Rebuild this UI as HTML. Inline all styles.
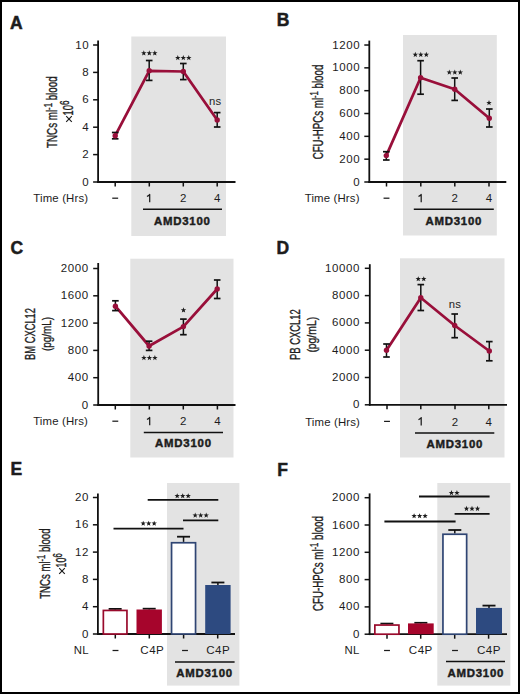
<!DOCTYPE html><html><head><meta charset="utf-8"><style>html,body{margin:0;padding:0;background:#fff;}svg{display:block;}text{font-family:"Liberation Sans",sans-serif;}</style></head><body>
<svg width="520" height="694" viewBox="0 0 520 694">
<rect x="0.00" y="0.00" width="520.00" height="694.00" fill="#000"/>
<rect x="2.00" y="2.00" width="516.00" height="690.00" fill="#fff"/>
<rect x="131.30" y="36.50" width="94.70" height="199.50" fill="#e3e3e3"/>
<text x="10.00" y="29.00" text-anchor="start" font-size="17.5" font-weight="bold" letter-spacing="0" fill="#1c1c1c" stroke="#1c1c1c" stroke-width="0.5">A</text>
<line x1="98.10" y1="40.60" x2="98.10" y2="182.90" stroke="#111" stroke-width="1.8"/>
<line x1="93.10" y1="182.00" x2="98.10" y2="182.00" stroke="#111" stroke-width="1.5"/>
<text x="89.20" y="185.52" text-anchor="end" font-size="11.5" font-weight="normal" letter-spacing="0.6" fill="#1c1c1c" >0</text>
<line x1="93.10" y1="154.60" x2="98.10" y2="154.60" stroke="#111" stroke-width="1.5"/>
<text x="89.20" y="158.12" text-anchor="end" font-size="11.5" font-weight="normal" letter-spacing="0.6" fill="#1c1c1c" >2</text>
<line x1="93.10" y1="127.20" x2="98.10" y2="127.20" stroke="#111" stroke-width="1.5"/>
<text x="89.20" y="130.72" text-anchor="end" font-size="11.5" font-weight="normal" letter-spacing="0.6" fill="#1c1c1c" >4</text>
<line x1="93.10" y1="99.80" x2="98.10" y2="99.80" stroke="#111" stroke-width="1.5"/>
<text x="89.20" y="103.32" text-anchor="end" font-size="11.5" font-weight="normal" letter-spacing="0.6" fill="#1c1c1c" >6</text>
<line x1="93.10" y1="72.40" x2="98.10" y2="72.40" stroke="#111" stroke-width="1.5"/>
<text x="89.20" y="75.92" text-anchor="end" font-size="11.5" font-weight="normal" letter-spacing="0.6" fill="#1c1c1c" >8</text>
<line x1="93.10" y1="45.00" x2="98.10" y2="45.00" stroke="#111" stroke-width="1.5"/>
<text x="89.20" y="48.52" text-anchor="end" font-size="11.5" font-weight="normal" letter-spacing="0.6" fill="#1c1c1c" >10</text>
<line x1="97.20" y1="182.00" x2="235.50" y2="182.00" stroke="#111" stroke-width="1.8"/>
<line x1="115.20" y1="182.00" x2="115.20" y2="186.50" stroke="#111" stroke-width="1.5"/>
<line x1="149.30" y1="182.00" x2="149.30" y2="186.50" stroke="#111" stroke-width="1.5"/>
<line x1="183.30" y1="182.00" x2="183.30" y2="186.50" stroke="#111" stroke-width="1.5"/>
<line x1="217.20" y1="182.00" x2="217.20" y2="186.50" stroke="#111" stroke-width="1.5"/>
<text x="88.20" y="202.30" text-anchor="end" font-size="11.4" font-weight="normal" letter-spacing="0.15" fill="#1c1c1c" >Time (Hrs)</text>
<line x1="112.25" y1="198.20" x2="118.15" y2="198.20" stroke="#1c1c1c" stroke-width="1.25"/>
<path d="M147.00,196.50 L149.20,195.10 L149.70,194.40 L149.70,202.30" fill="none" stroke="#1c1c1c" stroke-width="1.25" stroke-linejoin="round"/>
<text x="183.30" y="202.30" text-anchor="middle" font-size="11.5" font-weight="normal" letter-spacing="0" fill="#1c1c1c" >2</text>
<text x="217.20" y="202.30" text-anchor="middle" font-size="11.5" font-weight="normal" letter-spacing="0" fill="#1c1c1c" >4</text>
<line x1="143.00" y1="209.30" x2="222.00" y2="209.30" stroke="#111" stroke-width="1.5"/>
<text x="182.30" y="224.70" text-anchor="middle" font-size="11.4" font-weight="bold" letter-spacing="0.78" fill="#1c1c1c" stroke="#1c1c1c" stroke-width="0.45">AMD3100</text>
<path d="M115.20,135.70 L149.20,70.80 L183.30,71.50 L217.20,120.00" fill="none" stroke="#990f3a" stroke-width="2.75" stroke-linejoin="round"/>
<line x1="115.20" y1="132.50" x2="115.20" y2="138.80" stroke="#111" stroke-width="1.5"/>
<line x1="111.90" y1="132.50" x2="118.50" y2="132.50" stroke="#111" stroke-width="1.7"/>
<line x1="111.90" y1="138.80" x2="118.50" y2="138.80" stroke="#111" stroke-width="1.7"/>
<line x1="149.20" y1="60.50" x2="149.20" y2="80.40" stroke="#111" stroke-width="1.5"/>
<line x1="145.90" y1="60.50" x2="152.50" y2="60.50" stroke="#111" stroke-width="1.7"/>
<line x1="145.90" y1="80.40" x2="152.50" y2="80.40" stroke="#111" stroke-width="1.7"/>
<line x1="183.30" y1="63.50" x2="183.30" y2="79.60" stroke="#111" stroke-width="1.5"/>
<line x1="180.00" y1="63.50" x2="186.60" y2="63.50" stroke="#111" stroke-width="1.7"/>
<line x1="180.00" y1="79.60" x2="186.60" y2="79.60" stroke="#111" stroke-width="1.7"/>
<line x1="217.20" y1="112.60" x2="217.20" y2="127.00" stroke="#111" stroke-width="1.5"/>
<line x1="213.90" y1="112.60" x2="220.50" y2="112.60" stroke="#111" stroke-width="1.7"/>
<line x1="213.90" y1="127.00" x2="220.50" y2="127.00" stroke="#111" stroke-width="1.7"/>
<circle cx="115.20" cy="135.70" r="2.7" fill="#990f3a"/>
<circle cx="149.20" cy="70.80" r="2.7" fill="#990f3a"/>
<circle cx="183.30" cy="71.50" r="2.7" fill="#990f3a"/>
<circle cx="217.20" cy="120.00" r="2.7" fill="#990f3a"/>
<polygon points="143.80,50.35 144.51,52.23 146.51,52.32 144.94,53.57 145.48,55.51 143.80,54.40 142.12,55.51 142.66,53.57 141.09,52.32 143.09,52.23" fill="#1c1c1c"/>
<polygon points="149.30,50.35 150.01,52.23 152.01,52.32 150.44,53.57 150.98,55.51 149.30,54.40 147.62,55.51 148.16,53.57 146.59,52.32 148.59,52.23" fill="#1c1c1c"/>
<polygon points="154.80,50.35 155.51,52.23 157.51,52.32 155.94,53.57 156.48,55.51 154.80,54.40 153.12,55.51 153.66,53.57 152.09,52.32 154.09,52.23" fill="#1c1c1c"/>
<polygon points="177.80,55.05 178.51,56.93 180.51,57.02 178.94,58.27 179.48,60.21 177.80,59.10 176.12,60.21 176.66,58.27 175.09,57.02 177.09,56.93" fill="#1c1c1c"/>
<polygon points="183.30,55.05 184.01,56.93 186.01,57.02 184.44,58.27 184.98,60.21 183.30,59.10 181.62,60.21 182.16,58.27 180.59,57.02 182.59,56.93" fill="#1c1c1c"/>
<polygon points="188.80,55.05 189.51,56.93 191.51,57.02 189.94,58.27 190.48,60.21 188.80,59.10 187.12,60.21 187.66,58.27 186.09,57.02 188.09,56.93" fill="#1c1c1c"/>
<text x="215.20" y="105.00" text-anchor="middle" font-size="11.3" font-weight="normal" letter-spacing="0.2" fill="#1c1c1c" >ns</text>
<g transform="translate(56.90,147.90) rotate(-90)"><text x="0" y="0" text-anchor="start" font-size="13.9" fill="#1c1c1c" stroke="#1c1c1c" stroke-width="0.35" textLength="71.50" lengthAdjust="spacingAndGlyphs">TNCs ml<tspan font-size="11" dy="-5.1">-1</tspan><tspan dy="5.1"> </tspan>blood</text></g>
<path d="M66.20,116.20L71.80,121.80M66.20,121.80L71.80,116.20" stroke="#1c1c1c" stroke-width="1.15" fill="none"/>
<g transform="translate(72.80,115.40) rotate(-90)"><text x="0" y="0" text-anchor="start" font-size="13.9" fill="#1c1c1c" stroke="#1c1c1c" stroke-width="0.35" textLength="14.90" lengthAdjust="spacingAndGlyphs">10<tspan font-size="12" dy="-4.2">6</tspan></text></g>
<rect x="403.00" y="35.00" width="93.80" height="200.50" fill="#e3e3e3"/>
<text x="276.80" y="25.80" text-anchor="start" font-size="17.5" font-weight="bold" letter-spacing="0" fill="#1c1c1c" stroke="#1c1c1c" stroke-width="0.5">B</text>
<line x1="369.30" y1="40.60" x2="369.30" y2="182.90" stroke="#111" stroke-width="1.8"/>
<line x1="364.30" y1="182.00" x2="369.30" y2="182.00" stroke="#111" stroke-width="1.5"/>
<text x="360.30" y="185.52" text-anchor="end" font-size="11.5" font-weight="normal" letter-spacing="0.6" fill="#1c1c1c" >0</text>
<line x1="364.30" y1="159.17" x2="369.30" y2="159.17" stroke="#111" stroke-width="1.5"/>
<text x="360.30" y="162.69" text-anchor="end" font-size="11.5" font-weight="normal" letter-spacing="0.6" fill="#1c1c1c" >200</text>
<line x1="364.30" y1="136.34" x2="369.30" y2="136.34" stroke="#111" stroke-width="1.5"/>
<text x="360.30" y="139.86" text-anchor="end" font-size="11.5" font-weight="normal" letter-spacing="0.6" fill="#1c1c1c" >400</text>
<line x1="364.30" y1="113.51" x2="369.30" y2="113.51" stroke="#111" stroke-width="1.5"/>
<text x="360.30" y="117.03" text-anchor="end" font-size="11.5" font-weight="normal" letter-spacing="0.6" fill="#1c1c1c" >600</text>
<line x1="364.30" y1="90.68" x2="369.30" y2="90.68" stroke="#111" stroke-width="1.5"/>
<text x="360.30" y="94.20" text-anchor="end" font-size="11.5" font-weight="normal" letter-spacing="0.6" fill="#1c1c1c" >800</text>
<line x1="364.30" y1="67.85" x2="369.30" y2="67.85" stroke="#111" stroke-width="1.5"/>
<text x="360.30" y="71.37" text-anchor="end" font-size="11.5" font-weight="normal" letter-spacing="0.6" fill="#1c1c1c" >1000</text>
<line x1="364.30" y1="45.02" x2="369.30" y2="45.02" stroke="#111" stroke-width="1.5"/>
<text x="360.30" y="48.54" text-anchor="end" font-size="11.5" font-weight="normal" letter-spacing="0.6" fill="#1c1c1c" >1200</text>
<line x1="368.40" y1="182.00" x2="506.30" y2="182.00" stroke="#111" stroke-width="1.8"/>
<line x1="386.50" y1="182.00" x2="386.50" y2="186.50" stroke="#111" stroke-width="1.5"/>
<line x1="420.80" y1="182.00" x2="420.80" y2="186.50" stroke="#111" stroke-width="1.5"/>
<line x1="454.80" y1="182.00" x2="454.80" y2="186.50" stroke="#111" stroke-width="1.5"/>
<line x1="489.00" y1="182.00" x2="489.00" y2="186.50" stroke="#111" stroke-width="1.5"/>
<text x="359.60" y="202.30" text-anchor="end" font-size="11.4" font-weight="normal" letter-spacing="0.15" fill="#1c1c1c" >Time (Hrs)</text>
<line x1="383.55" y1="198.20" x2="389.45" y2="198.20" stroke="#1c1c1c" stroke-width="1.25"/>
<path d="M418.50,196.50 L420.70,195.10 L421.20,194.40 L421.20,202.30" fill="none" stroke="#1c1c1c" stroke-width="1.25" stroke-linejoin="round"/>
<text x="454.80" y="202.30" text-anchor="middle" font-size="11.5" font-weight="normal" letter-spacing="0" fill="#1c1c1c" >2</text>
<text x="489.00" y="202.30" text-anchor="middle" font-size="11.5" font-weight="normal" letter-spacing="0" fill="#1c1c1c" >4</text>
<line x1="413.80" y1="209.30" x2="493.80" y2="209.30" stroke="#111" stroke-width="1.5"/>
<text x="453.80" y="224.70" text-anchor="middle" font-size="11.4" font-weight="bold" letter-spacing="0.78" fill="#1c1c1c" stroke="#1c1c1c" stroke-width="0.45">AMD3100</text>
<path d="M386.30,155.60 L420.60,77.80 L454.70,89.30 L489.30,118.20" fill="none" stroke="#990f3a" stroke-width="2.75" stroke-linejoin="round"/>
<line x1="386.30" y1="151.70" x2="386.30" y2="160.00" stroke="#111" stroke-width="1.5"/>
<line x1="383.00" y1="151.70" x2="389.60" y2="151.70" stroke="#111" stroke-width="1.7"/>
<line x1="383.00" y1="160.00" x2="389.60" y2="160.00" stroke="#111" stroke-width="1.7"/>
<line x1="420.60" y1="60.70" x2="420.60" y2="94.20" stroke="#111" stroke-width="1.5"/>
<line x1="417.30" y1="60.70" x2="423.90" y2="60.70" stroke="#111" stroke-width="1.7"/>
<line x1="417.30" y1="94.20" x2="423.90" y2="94.20" stroke="#111" stroke-width="1.7"/>
<line x1="454.70" y1="78.00" x2="454.70" y2="100.40" stroke="#111" stroke-width="1.5"/>
<line x1="451.40" y1="78.00" x2="458.00" y2="78.00" stroke="#111" stroke-width="1.7"/>
<line x1="451.40" y1="100.40" x2="458.00" y2="100.40" stroke="#111" stroke-width="1.7"/>
<line x1="489.30" y1="109.00" x2="489.30" y2="127.00" stroke="#111" stroke-width="1.5"/>
<line x1="486.00" y1="109.00" x2="492.60" y2="109.00" stroke="#111" stroke-width="1.7"/>
<line x1="486.00" y1="127.00" x2="492.60" y2="127.00" stroke="#111" stroke-width="1.7"/>
<circle cx="386.30" cy="155.60" r="2.7" fill="#990f3a"/>
<circle cx="420.60" cy="77.80" r="2.7" fill="#990f3a"/>
<circle cx="454.70" cy="89.30" r="2.7" fill="#990f3a"/>
<circle cx="489.30" cy="118.20" r="2.7" fill="#990f3a"/>
<polygon points="415.30,51.85 416.01,53.73 418.01,53.82 416.44,55.07 416.98,57.01 415.30,55.90 413.62,57.01 414.16,55.07 412.59,53.82 414.59,53.73" fill="#1c1c1c"/>
<polygon points="420.80,51.85 421.51,53.73 423.51,53.82 421.94,55.07 422.48,57.01 420.80,55.90 419.12,57.01 419.66,55.07 418.09,53.82 420.09,53.73" fill="#1c1c1c"/>
<polygon points="426.30,51.85 427.01,53.73 429.01,53.82 427.44,55.07 427.98,57.01 426.30,55.90 424.62,57.01 425.16,55.07 423.59,53.82 425.59,53.73" fill="#1c1c1c"/>
<polygon points="449.30,69.55 450.01,71.43 452.01,71.52 450.44,72.77 450.98,74.71 449.30,73.60 447.62,74.71 448.16,72.77 446.59,71.52 448.59,71.43" fill="#1c1c1c"/>
<polygon points="454.80,69.55 455.51,71.43 457.51,71.52 455.94,72.77 456.48,74.71 454.80,73.60 453.12,74.71 453.66,72.77 452.09,71.52 454.09,71.43" fill="#1c1c1c"/>
<polygon points="460.30,69.55 461.01,71.43 463.01,71.52 461.44,72.77 461.98,74.71 460.30,73.60 458.62,74.71 459.16,72.77 457.59,71.52 459.59,71.43" fill="#1c1c1c"/>
<polygon points="489.00,100.05 489.71,101.93 491.71,102.02 490.14,103.27 490.68,105.21 489.00,104.10 487.32,105.21 487.86,103.27 486.29,102.02 488.29,101.93" fill="#1c1c1c"/>
<g transform="translate(323.30,159.30) rotate(-90)"><text x="0" y="0" text-anchor="start" font-size="13.9" fill="#1c1c1c" stroke="#1c1c1c" stroke-width="0.35" textLength="94.60" lengthAdjust="spacingAndGlyphs">CFU-HPCs ml<tspan font-size="11" dy="-5.1">-1</tspan><tspan dy="5.1"> </tspan>blood</text></g>
<rect x="130.30" y="258.70" width="103.20" height="198.80" fill="#e3e3e3"/>
<text x="10.40" y="253.50" text-anchor="start" font-size="17.5" font-weight="bold" letter-spacing="0" fill="#1c1c1c" stroke="#1c1c1c" stroke-width="0.5">C</text>
<line x1="98.20" y1="263.00" x2="98.20" y2="405.90" stroke="#111" stroke-width="1.8"/>
<line x1="93.20" y1="405.00" x2="98.20" y2="405.00" stroke="#111" stroke-width="1.5"/>
<text x="88.80" y="408.52" text-anchor="end" font-size="11.5" font-weight="normal" letter-spacing="0.6" fill="#1c1c1c" >0</text>
<line x1="93.20" y1="377.70" x2="98.20" y2="377.70" stroke="#111" stroke-width="1.5"/>
<text x="88.80" y="381.22" text-anchor="end" font-size="11.5" font-weight="normal" letter-spacing="0.6" fill="#1c1c1c" >400</text>
<line x1="93.20" y1="350.40" x2="98.20" y2="350.40" stroke="#111" stroke-width="1.5"/>
<text x="88.80" y="353.92" text-anchor="end" font-size="11.5" font-weight="normal" letter-spacing="0.6" fill="#1c1c1c" >800</text>
<line x1="93.20" y1="323.10" x2="98.20" y2="323.10" stroke="#111" stroke-width="1.5"/>
<text x="88.80" y="326.62" text-anchor="end" font-size="11.5" font-weight="normal" letter-spacing="0.6" fill="#1c1c1c" >1200</text>
<line x1="93.20" y1="295.80" x2="98.20" y2="295.80" stroke="#111" stroke-width="1.5"/>
<text x="88.80" y="299.32" text-anchor="end" font-size="11.5" font-weight="normal" letter-spacing="0.6" fill="#1c1c1c" >1600</text>
<line x1="93.20" y1="268.50" x2="98.20" y2="268.50" stroke="#111" stroke-width="1.5"/>
<text x="88.80" y="272.02" text-anchor="end" font-size="11.5" font-weight="normal" letter-spacing="0.6" fill="#1c1c1c" >2000</text>
<line x1="97.30" y1="405.00" x2="235.50" y2="405.00" stroke="#111" stroke-width="1.8"/>
<line x1="115.30" y1="405.00" x2="115.30" y2="409.50" stroke="#111" stroke-width="1.5"/>
<line x1="149.30" y1="405.00" x2="149.30" y2="409.50" stroke="#111" stroke-width="1.5"/>
<line x1="183.30" y1="405.00" x2="183.30" y2="409.50" stroke="#111" stroke-width="1.5"/>
<line x1="217.40" y1="405.00" x2="217.40" y2="409.50" stroke="#111" stroke-width="1.5"/>
<text x="88.00" y="425.30" text-anchor="end" font-size="11.4" font-weight="normal" letter-spacing="0.15" fill="#1c1c1c" >Time (Hrs)</text>
<line x1="112.35" y1="421.20" x2="118.25" y2="421.20" stroke="#1c1c1c" stroke-width="1.25"/>
<path d="M147.00,419.50 L149.20,418.10 L149.70,417.40 L149.70,425.30" fill="none" stroke="#1c1c1c" stroke-width="1.25" stroke-linejoin="round"/>
<text x="183.30" y="425.30" text-anchor="middle" font-size="11.5" font-weight="normal" letter-spacing="0" fill="#1c1c1c" >2</text>
<text x="217.40" y="425.30" text-anchor="middle" font-size="11.5" font-weight="normal" letter-spacing="0" fill="#1c1c1c" >4</text>
<line x1="143.80" y1="432.60" x2="223.00" y2="432.60" stroke="#111" stroke-width="1.5"/>
<text x="183.40" y="447.30" text-anchor="middle" font-size="11.4" font-weight="bold" letter-spacing="0.78" fill="#1c1c1c" stroke="#1c1c1c" stroke-width="0.45">AMD3100</text>
<path d="M115.40,306.20 L149.10,346.00 L183.40,326.60 L217.20,289.00" fill="none" stroke="#990f3a" stroke-width="2.75" stroke-linejoin="round"/>
<line x1="115.40" y1="300.80" x2="115.40" y2="310.60" stroke="#111" stroke-width="1.5"/>
<line x1="112.10" y1="300.80" x2="118.70" y2="300.80" stroke="#111" stroke-width="1.7"/>
<line x1="112.10" y1="310.60" x2="118.70" y2="310.60" stroke="#111" stroke-width="1.7"/>
<line x1="149.10" y1="341.20" x2="149.10" y2="350.40" stroke="#111" stroke-width="1.5"/>
<line x1="145.80" y1="341.20" x2="152.40" y2="341.20" stroke="#111" stroke-width="1.7"/>
<line x1="145.80" y1="350.40" x2="152.40" y2="350.40" stroke="#111" stroke-width="1.7"/>
<line x1="183.40" y1="319.10" x2="183.40" y2="334.70" stroke="#111" stroke-width="1.5"/>
<line x1="180.10" y1="319.10" x2="186.70" y2="319.10" stroke="#111" stroke-width="1.7"/>
<line x1="180.10" y1="334.70" x2="186.70" y2="334.70" stroke="#111" stroke-width="1.7"/>
<line x1="217.20" y1="280.00" x2="217.20" y2="298.50" stroke="#111" stroke-width="1.5"/>
<line x1="213.90" y1="280.00" x2="220.50" y2="280.00" stroke="#111" stroke-width="1.7"/>
<line x1="213.90" y1="298.50" x2="220.50" y2="298.50" stroke="#111" stroke-width="1.7"/>
<circle cx="115.40" cy="306.20" r="2.7" fill="#990f3a"/>
<circle cx="149.10" cy="346.00" r="2.7" fill="#990f3a"/>
<circle cx="183.40" cy="326.60" r="2.7" fill="#990f3a"/>
<circle cx="217.20" cy="289.00" r="2.7" fill="#990f3a"/>
<polygon points="143.90,355.05 144.61,356.93 146.61,357.02 145.04,358.27 145.58,360.21 143.90,359.10 142.22,360.21 142.76,358.27 141.19,357.02 143.19,356.93" fill="#1c1c1c"/>
<polygon points="149.40,355.05 150.11,356.93 152.11,357.02 150.54,358.27 151.08,360.21 149.40,359.10 147.72,360.21 148.26,358.27 146.69,357.02 148.69,356.93" fill="#1c1c1c"/>
<polygon points="154.90,355.05 155.61,356.93 157.61,357.02 156.04,358.27 156.58,360.21 154.90,359.10 153.22,360.21 153.76,358.27 152.19,357.02 154.19,356.93" fill="#1c1c1c"/>
<polygon points="183.50,307.35 184.21,309.23 186.21,309.32 184.64,310.57 185.18,312.51 183.50,311.40 181.82,312.51 182.36,310.57 180.79,309.32 182.79,309.23" fill="#1c1c1c"/>
<g transform="translate(35.00,359.90) rotate(-90)"><text x="0" y="0" text-anchor="start" font-size="13.9" fill="#1c1c1c" stroke="#1c1c1c" stroke-width="0.35" textLength="51.90" lengthAdjust="spacingAndGlyphs">BM CXCL12</text></g>
<g transform="translate(51.40,351.00) rotate(-90)"><text x="0" y="0" text-anchor="start" font-size="12.5" fill="#1c1c1c" stroke="#1c1c1c" stroke-width="0.35" textLength="34.10" lengthAdjust="spacingAndGlyphs">(pg/mL)</text></g>
<rect x="400.00" y="258.30" width="104.50" height="199.20" fill="#e3e3e3"/>
<text x="276.50" y="253.80" text-anchor="start" font-size="17.5" font-weight="bold" letter-spacing="0" fill="#1c1c1c" stroke="#1c1c1c" stroke-width="0.5">D</text>
<line x1="369.80" y1="264.20" x2="369.80" y2="405.70" stroke="#111" stroke-width="1.8"/>
<line x1="364.80" y1="404.80" x2="369.80" y2="404.80" stroke="#111" stroke-width="1.5"/>
<text x="360.00" y="408.32" text-anchor="end" font-size="11.5" font-weight="normal" letter-spacing="0.6" fill="#1c1c1c" >0</text>
<line x1="364.80" y1="377.50" x2="369.80" y2="377.50" stroke="#111" stroke-width="1.5"/>
<text x="360.00" y="381.02" text-anchor="end" font-size="11.5" font-weight="normal" letter-spacing="0.6" fill="#1c1c1c" >2000</text>
<line x1="364.80" y1="350.20" x2="369.80" y2="350.20" stroke="#111" stroke-width="1.5"/>
<text x="360.00" y="353.72" text-anchor="end" font-size="11.5" font-weight="normal" letter-spacing="0.6" fill="#1c1c1c" >4000</text>
<line x1="364.80" y1="322.90" x2="369.80" y2="322.90" stroke="#111" stroke-width="1.5"/>
<text x="360.00" y="326.42" text-anchor="end" font-size="11.5" font-weight="normal" letter-spacing="0.6" fill="#1c1c1c" >6000</text>
<line x1="364.80" y1="295.60" x2="369.80" y2="295.60" stroke="#111" stroke-width="1.5"/>
<text x="360.00" y="299.12" text-anchor="end" font-size="11.5" font-weight="normal" letter-spacing="0.6" fill="#1c1c1c" >8000</text>
<line x1="364.80" y1="268.30" x2="369.80" y2="268.30" stroke="#111" stroke-width="1.5"/>
<text x="360.00" y="271.82" text-anchor="end" font-size="11.5" font-weight="normal" letter-spacing="0.6" fill="#1c1c1c" >10000</text>
<line x1="368.90" y1="404.80" x2="507.00" y2="404.80" stroke="#111" stroke-width="1.8"/>
<line x1="387.00" y1="404.80" x2="387.00" y2="409.30" stroke="#111" stroke-width="1.5"/>
<line x1="420.80" y1="404.80" x2="420.80" y2="409.30" stroke="#111" stroke-width="1.5"/>
<line x1="455.00" y1="404.80" x2="455.00" y2="409.30" stroke="#111" stroke-width="1.5"/>
<line x1="488.80" y1="404.80" x2="488.80" y2="409.30" stroke="#111" stroke-width="1.5"/>
<text x="360.00" y="425.50" text-anchor="end" font-size="11.4" font-weight="normal" letter-spacing="0.15" fill="#1c1c1c" >Time (Hrs)</text>
<line x1="384.05" y1="421.40" x2="389.95" y2="421.40" stroke="#1c1c1c" stroke-width="1.25"/>
<path d="M418.50,419.70 L420.70,418.30 L421.20,417.60 L421.20,425.50" fill="none" stroke="#1c1c1c" stroke-width="1.25" stroke-linejoin="round"/>
<text x="455.00" y="425.50" text-anchor="middle" font-size="11.5" font-weight="normal" letter-spacing="0" fill="#1c1c1c" >2</text>
<text x="488.80" y="425.50" text-anchor="middle" font-size="11.5" font-weight="normal" letter-spacing="0" fill="#1c1c1c" >4</text>
<line x1="415.00" y1="433.00" x2="494.30" y2="433.00" stroke="#111" stroke-width="1.5"/>
<text x="454.80" y="448.40" text-anchor="middle" font-size="11.4" font-weight="bold" letter-spacing="0.78" fill="#1c1c1c" stroke="#1c1c1c" stroke-width="0.45">AMD3100</text>
<path d="M386.50,350.20 L420.80,297.80 L454.70,325.50 L489.30,351.00" fill="none" stroke="#990f3a" stroke-width="2.75" stroke-linejoin="round"/>
<line x1="386.50" y1="344.00" x2="386.50" y2="357.00" stroke="#111" stroke-width="1.5"/>
<line x1="383.20" y1="344.00" x2="389.80" y2="344.00" stroke="#111" stroke-width="1.7"/>
<line x1="383.20" y1="357.00" x2="389.80" y2="357.00" stroke="#111" stroke-width="1.7"/>
<line x1="420.80" y1="284.60" x2="420.80" y2="310.50" stroke="#111" stroke-width="1.5"/>
<line x1="417.50" y1="284.60" x2="424.10" y2="284.60" stroke="#111" stroke-width="1.7"/>
<line x1="417.50" y1="310.50" x2="424.10" y2="310.50" stroke="#111" stroke-width="1.7"/>
<line x1="454.70" y1="314.00" x2="454.70" y2="337.70" stroke="#111" stroke-width="1.5"/>
<line x1="451.40" y1="314.00" x2="458.00" y2="314.00" stroke="#111" stroke-width="1.7"/>
<line x1="451.40" y1="337.70" x2="458.00" y2="337.70" stroke="#111" stroke-width="1.7"/>
<line x1="489.30" y1="341.60" x2="489.30" y2="360.80" stroke="#111" stroke-width="1.5"/>
<line x1="486.00" y1="341.60" x2="492.60" y2="341.60" stroke="#111" stroke-width="1.7"/>
<line x1="486.00" y1="360.80" x2="492.60" y2="360.80" stroke="#111" stroke-width="1.7"/>
<circle cx="386.50" cy="350.20" r="2.7" fill="#990f3a"/>
<circle cx="420.80" cy="297.80" r="2.7" fill="#990f3a"/>
<circle cx="454.70" cy="325.50" r="2.7" fill="#990f3a"/>
<circle cx="489.30" cy="351.00" r="2.7" fill="#990f3a"/>
<polygon points="418.25,276.15 418.96,278.03 420.96,278.12 419.39,279.37 419.93,281.31 418.25,280.20 416.57,281.31 417.11,279.37 415.54,278.12 417.54,278.03" fill="#1c1c1c"/>
<polygon points="423.75,276.15 424.46,278.03 426.46,278.12 424.89,279.37 425.43,281.31 423.75,280.20 422.07,281.31 422.61,279.37 421.04,278.12 423.04,278.03" fill="#1c1c1c"/>
<text x="455.00" y="307.70" text-anchor="middle" font-size="11.3" font-weight="normal" letter-spacing="0.2" fill="#1c1c1c" >ns</text>
<g transform="translate(300.30,360.00) rotate(-90)"><text x="0" y="0" text-anchor="start" font-size="13.9" fill="#1c1c1c" stroke="#1c1c1c" stroke-width="0.35" textLength="50.70" lengthAdjust="spacingAndGlyphs">PB CXCL12</text></g>
<g transform="translate(315.90,352.60) rotate(-90)"><text x="0" y="0" text-anchor="start" font-size="12.5" fill="#1c1c1c" stroke="#1c1c1c" stroke-width="0.35" textLength="35.70" lengthAdjust="spacingAndGlyphs">(pg/mL)</text></g>
<rect x="167.00" y="483.00" width="72.40" height="202.60" fill="#e3e3e3"/>
<text x="10.60" y="474.90" text-anchor="start" font-size="17.5" font-weight="bold" letter-spacing="0" fill="#1c1c1c" stroke="#1c1c1c" stroke-width="0.5">E</text>
<line x1="97.90" y1="493.40" x2="97.90" y2="634.90" stroke="#111" stroke-width="1.8"/>
<line x1="92.90" y1="634.00" x2="97.90" y2="634.00" stroke="#111" stroke-width="1.5"/>
<text x="89.10" y="637.52" text-anchor="end" font-size="11.5" font-weight="normal" letter-spacing="0.6" fill="#1c1c1c" >0</text>
<line x1="92.90" y1="606.70" x2="97.90" y2="606.70" stroke="#111" stroke-width="1.5"/>
<text x="89.10" y="610.22" text-anchor="end" font-size="11.5" font-weight="normal" letter-spacing="0.6" fill="#1c1c1c" >4</text>
<line x1="92.90" y1="579.40" x2="97.90" y2="579.40" stroke="#111" stroke-width="1.5"/>
<text x="89.10" y="582.92" text-anchor="end" font-size="11.5" font-weight="normal" letter-spacing="0.6" fill="#1c1c1c" >8</text>
<line x1="92.90" y1="552.10" x2="97.90" y2="552.10" stroke="#111" stroke-width="1.5"/>
<text x="89.10" y="555.62" text-anchor="end" font-size="11.5" font-weight="normal" letter-spacing="0.6" fill="#1c1c1c" >12</text>
<line x1="92.90" y1="524.80" x2="97.90" y2="524.80" stroke="#111" stroke-width="1.5"/>
<text x="89.10" y="528.32" text-anchor="end" font-size="11.5" font-weight="normal" letter-spacing="0.6" fill="#1c1c1c" >16</text>
<line x1="92.90" y1="497.50" x2="97.90" y2="497.50" stroke="#111" stroke-width="1.5"/>
<text x="89.10" y="501.02" text-anchor="end" font-size="11.5" font-weight="normal" letter-spacing="0.6" fill="#1c1c1c" >20</text>
<line x1="97.00" y1="634.00" x2="235.00" y2="634.00" stroke="#111" stroke-width="1.8"/>
<line x1="115.30" y1="634.00" x2="115.30" y2="638.50" stroke="#111" stroke-width="1.5"/>
<line x1="149.30" y1="634.00" x2="149.30" y2="638.50" stroke="#111" stroke-width="1.5"/>
<line x1="183.60" y1="634.00" x2="183.60" y2="638.50" stroke="#111" stroke-width="1.5"/>
<line x1="217.70" y1="634.00" x2="217.70" y2="638.50" stroke="#111" stroke-width="1.5"/>
<text x="88.80" y="653.80" text-anchor="end" font-size="11.4" font-weight="normal" letter-spacing="0.3" fill="#1c1c1c" >NL</text>
<line x1="112.55" y1="650.50" x2="118.45" y2="650.50" stroke="#1c1c1c" stroke-width="1.25"/>
<text x="152.30" y="653.60" text-anchor="middle" font-size="11.6" font-weight="normal" letter-spacing="0.45" fill="#1c1c1c" >C4P</text>
<line x1="182.05" y1="650.50" x2="187.95" y2="650.50" stroke="#1c1c1c" stroke-width="1.25"/>
<text x="218.20" y="653.60" text-anchor="middle" font-size="11.6" font-weight="normal" letter-spacing="0.45" fill="#1c1c1c" >C4P</text>
<line x1="175.00" y1="662.00" x2="234.60" y2="662.00" stroke="#111" stroke-width="1.5"/>
<text x="204.60" y="677.00" text-anchor="middle" font-size="11.4" font-weight="bold" letter-spacing="0.78" fill="#1c1c1c" stroke="#1c1c1c" stroke-width="0.45">AMD3100</text>
<line x1="115.15" y1="608.90" x2="115.15" y2="609.60" stroke="#111" stroke-width="1.5"/>
<line x1="108.65" y1="608.90" x2="121.65" y2="608.90" stroke="#111" stroke-width="1.8"/>
<rect x="103.35" y="610.45" width="23.60" height="23.55" fill="#fff" stroke="#990a2c" stroke-width="1.7"/>
<line x1="149.20" y1="608.70" x2="149.20" y2="609.50" stroke="#111" stroke-width="1.5"/>
<line x1="142.70" y1="608.70" x2="155.70" y2="608.70" stroke="#111" stroke-width="1.8"/>
<rect x="136.50" y="609.50" width="25.40" height="24.50" fill="#a6052c"/>
<line x1="183.55" y1="536.70" x2="183.55" y2="541.90" stroke="#111" stroke-width="1.5"/>
<line x1="177.05" y1="536.70" x2="190.05" y2="536.70" stroke="#111" stroke-width="1.8"/>
<rect x="171.55" y="542.75" width="24.00" height="91.25" fill="#fff" stroke="#2f4573" stroke-width="1.7"/>
<line x1="217.90" y1="582.50" x2="217.90" y2="585.00" stroke="#111" stroke-width="1.5"/>
<line x1="211.40" y1="582.50" x2="224.40" y2="582.50" stroke="#111" stroke-width="1.8"/>
<rect x="205.20" y="585.00" width="25.40" height="49.00" fill="#2d4a80"/>
<line x1="147.70" y1="499.80" x2="218.30" y2="499.80" stroke="#111" stroke-width="1.8"/>
<polygon points="177.20,493.15 177.91,495.03 179.91,495.12 178.34,496.37 178.88,498.31 177.20,497.20 175.52,498.31 176.06,496.37 174.49,495.12 176.49,495.03" fill="#1c1c1c"/>
<polygon points="182.70,493.15 183.41,495.03 185.41,495.12 183.84,496.37 184.38,498.31 182.70,497.20 181.02,498.31 181.56,496.37 179.99,495.12 181.99,495.03" fill="#1c1c1c"/>
<polygon points="188.20,493.15 188.91,495.03 190.91,495.12 189.34,496.37 189.88,498.31 188.20,497.20 186.52,498.31 187.06,496.37 185.49,495.12 187.49,495.03" fill="#1c1c1c"/>
<line x1="183.00" y1="520.40" x2="218.30" y2="520.40" stroke="#111" stroke-width="1.8"/>
<polygon points="195.20,512.55 195.91,514.43 197.91,514.52 196.34,515.77 196.88,517.71 195.20,516.60 193.52,517.71 194.06,515.77 192.49,514.52 194.49,514.43" fill="#1c1c1c"/>
<polygon points="200.70,512.55 201.41,514.43 203.41,514.52 201.84,515.77 202.38,517.71 200.70,516.60 199.02,517.71 199.56,515.77 197.99,514.52 199.99,514.43" fill="#1c1c1c"/>
<polygon points="206.20,512.55 206.91,514.43 208.91,514.52 207.34,515.77 207.88,517.71 206.20,516.60 204.52,517.71 205.06,515.77 203.49,514.52 205.49,514.43" fill="#1c1c1c"/>
<line x1="113.50" y1="528.70" x2="183.50" y2="528.70" stroke="#111" stroke-width="1.8"/>
<polygon points="143.20,520.65 143.91,522.53 145.91,522.62 144.34,523.87 144.88,525.81 143.20,524.70 141.52,525.81 142.06,523.87 140.49,522.62 142.49,522.53" fill="#1c1c1c"/>
<polygon points="148.70,520.65 149.41,522.53 151.41,522.62 149.84,523.87 150.38,525.81 148.70,524.70 147.02,525.81 147.56,523.87 145.99,522.62 147.99,522.53" fill="#1c1c1c"/>
<polygon points="154.20,520.65 154.91,522.53 156.91,522.62 155.34,523.87 155.88,525.81 154.20,524.70 152.52,525.81 153.06,523.87 151.49,522.62 153.49,522.53" fill="#1c1c1c"/>
<g transform="translate(50.40,598.80) rotate(-90)"><text x="0" y="0" text-anchor="start" font-size="13.9" fill="#1c1c1c" stroke="#1c1c1c" stroke-width="0.35" textLength="70.30" lengthAdjust="spacingAndGlyphs">TNCs ml<tspan font-size="11" dy="-5.1">-1</tspan><tspan dy="5.1"> </tspan>blood</text></g>
<path d="M59.20,568.20L64.80,573.80M59.20,573.80L64.80,568.20" stroke="#1c1c1c" stroke-width="1.15" fill="none"/>
<g transform="translate(65.80,567.40) rotate(-90)"><text x="0" y="0" text-anchor="start" font-size="13.9" fill="#1c1c1c" stroke="#1c1c1c" stroke-width="0.35" textLength="14.10" lengthAdjust="spacingAndGlyphs">10<tspan font-size="12" dy="-4.2">6</tspan></text></g>
<rect x="437.30" y="483.00" width="73.10" height="202.60" fill="#e3e3e3"/>
<text x="277.20" y="475.80" text-anchor="start" font-size="17.5" font-weight="bold" letter-spacing="0" fill="#1c1c1c" stroke="#1c1c1c" stroke-width="0.5">F</text>
<line x1="369.60" y1="493.40" x2="369.60" y2="635.10" stroke="#111" stroke-width="1.8"/>
<line x1="364.60" y1="634.20" x2="369.60" y2="634.20" stroke="#111" stroke-width="1.5"/>
<text x="360.10" y="637.72" text-anchor="end" font-size="11.5" font-weight="normal" letter-spacing="0.6" fill="#1c1c1c" >0</text>
<line x1="364.60" y1="606.90" x2="369.60" y2="606.90" stroke="#111" stroke-width="1.5"/>
<text x="360.10" y="610.42" text-anchor="end" font-size="11.5" font-weight="normal" letter-spacing="0.6" fill="#1c1c1c" >400</text>
<line x1="364.60" y1="579.60" x2="369.60" y2="579.60" stroke="#111" stroke-width="1.5"/>
<text x="360.10" y="583.12" text-anchor="end" font-size="11.5" font-weight="normal" letter-spacing="0.6" fill="#1c1c1c" >800</text>
<line x1="364.60" y1="552.30" x2="369.60" y2="552.30" stroke="#111" stroke-width="1.5"/>
<text x="360.10" y="555.82" text-anchor="end" font-size="11.5" font-weight="normal" letter-spacing="0.6" fill="#1c1c1c" >1200</text>
<line x1="364.60" y1="525.00" x2="369.60" y2="525.00" stroke="#111" stroke-width="1.5"/>
<text x="360.10" y="528.52" text-anchor="end" font-size="11.5" font-weight="normal" letter-spacing="0.6" fill="#1c1c1c" >1600</text>
<line x1="364.60" y1="497.70" x2="369.60" y2="497.70" stroke="#111" stroke-width="1.5"/>
<text x="360.10" y="501.22" text-anchor="end" font-size="11.5" font-weight="normal" letter-spacing="0.6" fill="#1c1c1c" >2000</text>
<line x1="368.70" y1="634.20" x2="507.00" y2="634.20" stroke="#111" stroke-width="1.8"/>
<line x1="387.00" y1="634.20" x2="387.00" y2="638.70" stroke="#111" stroke-width="1.5"/>
<line x1="420.70" y1="634.20" x2="420.70" y2="638.70" stroke="#111" stroke-width="1.5"/>
<line x1="454.70" y1="634.20" x2="454.70" y2="638.70" stroke="#111" stroke-width="1.5"/>
<line x1="488.60" y1="634.20" x2="488.60" y2="638.70" stroke="#111" stroke-width="1.5"/>
<text x="359.60" y="653.80" text-anchor="end" font-size="11.4" font-weight="normal" letter-spacing="0.3" fill="#1c1c1c" >NL</text>
<line x1="384.05" y1="650.50" x2="389.95" y2="650.50" stroke="#1c1c1c" stroke-width="1.25"/>
<text x="420.80" y="653.60" text-anchor="middle" font-size="11.6" font-weight="normal" letter-spacing="0.45" fill="#1c1c1c" >C4P</text>
<line x1="452.05" y1="650.50" x2="457.95" y2="650.50" stroke="#1c1c1c" stroke-width="1.25"/>
<text x="489.00" y="653.60" text-anchor="middle" font-size="11.6" font-weight="normal" letter-spacing="0.45" fill="#1c1c1c" >C4P</text>
<line x1="446.00" y1="661.40" x2="505.00" y2="661.40" stroke="#111" stroke-width="1.5"/>
<text x="475.80" y="676.50" text-anchor="middle" font-size="11.4" font-weight="bold" letter-spacing="0.78" fill="#1c1c1c" stroke="#1c1c1c" stroke-width="0.45">AMD3100</text>
<line x1="386.90" y1="623.60" x2="386.90" y2="624.20" stroke="#111" stroke-width="1.5"/>
<line x1="380.40" y1="623.60" x2="393.40" y2="623.60" stroke="#111" stroke-width="1.8"/>
<rect x="374.85" y="625.05" width="24.10" height="9.15" fill="#fff" stroke="#990a2c" stroke-width="1.7"/>
<line x1="420.85" y1="622.80" x2="420.85" y2="623.40" stroke="#111" stroke-width="1.5"/>
<line x1="414.35" y1="622.80" x2="427.35" y2="622.80" stroke="#111" stroke-width="1.8"/>
<rect x="408.00" y="623.40" width="25.70" height="10.80" fill="#a6052c"/>
<line x1="454.80" y1="530.00" x2="454.80" y2="533.40" stroke="#111" stroke-width="1.5"/>
<line x1="448.30" y1="530.00" x2="461.30" y2="530.00" stroke="#111" stroke-width="1.8"/>
<rect x="442.95" y="534.25" width="23.70" height="99.95" fill="#fff" stroke="#2f4573" stroke-width="1.7"/>
<line x1="489.00" y1="605.60" x2="489.00" y2="607.90" stroke="#111" stroke-width="1.5"/>
<line x1="482.50" y1="605.60" x2="495.50" y2="605.60" stroke="#111" stroke-width="1.8"/>
<rect x="476.00" y="607.90" width="26.00" height="26.30" fill="#2d4a80"/>
<line x1="419.00" y1="496.50" x2="489.60" y2="496.50" stroke="#111" stroke-width="1.8"/>
<polygon points="451.45,490.05 452.16,491.93 454.16,492.02 452.59,493.27 453.13,495.21 451.45,494.10 449.77,495.21 450.31,493.27 448.74,492.02 450.74,491.93" fill="#1c1c1c"/>
<polygon points="456.95,490.05 457.66,491.93 459.66,492.02 458.09,493.27 458.63,495.21 456.95,494.10 455.27,495.21 455.81,493.27 454.24,492.02 456.24,491.93" fill="#1c1c1c"/>
<line x1="454.60" y1="513.80" x2="489.60" y2="513.80" stroke="#111" stroke-width="1.8"/>
<polygon points="466.50,505.85 467.21,507.73 469.21,507.82 467.64,509.07 468.18,511.01 466.50,509.90 464.82,511.01 465.36,509.07 463.79,507.82 465.79,507.73" fill="#1c1c1c"/>
<polygon points="472.00,505.85 472.71,507.73 474.71,507.82 473.14,509.07 473.68,511.01 472.00,509.90 470.32,511.01 470.86,509.07 469.29,507.82 471.29,507.73" fill="#1c1c1c"/>
<polygon points="477.50,505.85 478.21,507.73 480.21,507.82 478.64,509.07 479.18,511.01 477.50,509.90 475.82,511.01 476.36,509.07 474.79,507.82 476.79,507.73" fill="#1c1c1c"/>
<line x1="384.40" y1="521.50" x2="455.60" y2="521.50" stroke="#111" stroke-width="1.8"/>
<polygon points="414.10,513.15 414.81,515.03 416.81,515.12 415.24,516.37 415.78,518.31 414.10,517.20 412.42,518.31 412.96,516.37 411.39,515.12 413.39,515.03" fill="#1c1c1c"/>
<polygon points="419.60,513.15 420.31,515.03 422.31,515.12 420.74,516.37 421.28,518.31 419.60,517.20 417.92,518.31 418.46,516.37 416.89,515.12 418.89,515.03" fill="#1c1c1c"/>
<polygon points="425.10,513.15 425.81,515.03 427.81,515.12 426.24,516.37 426.78,518.31 425.10,517.20 423.42,518.31 423.96,516.37 422.39,515.12 424.39,515.03" fill="#1c1c1c"/>
<g transform="translate(323.20,611.00) rotate(-90)"><text x="0" y="0" text-anchor="start" font-size="13.9" fill="#1c1c1c" stroke="#1c1c1c" stroke-width="0.35" textLength="94.90" lengthAdjust="spacingAndGlyphs">CFU-HPCs ml<tspan font-size="11" dy="-5.1">-1</tspan><tspan dy="5.1"> </tspan>blood</text></g>
</svg></body></html>
